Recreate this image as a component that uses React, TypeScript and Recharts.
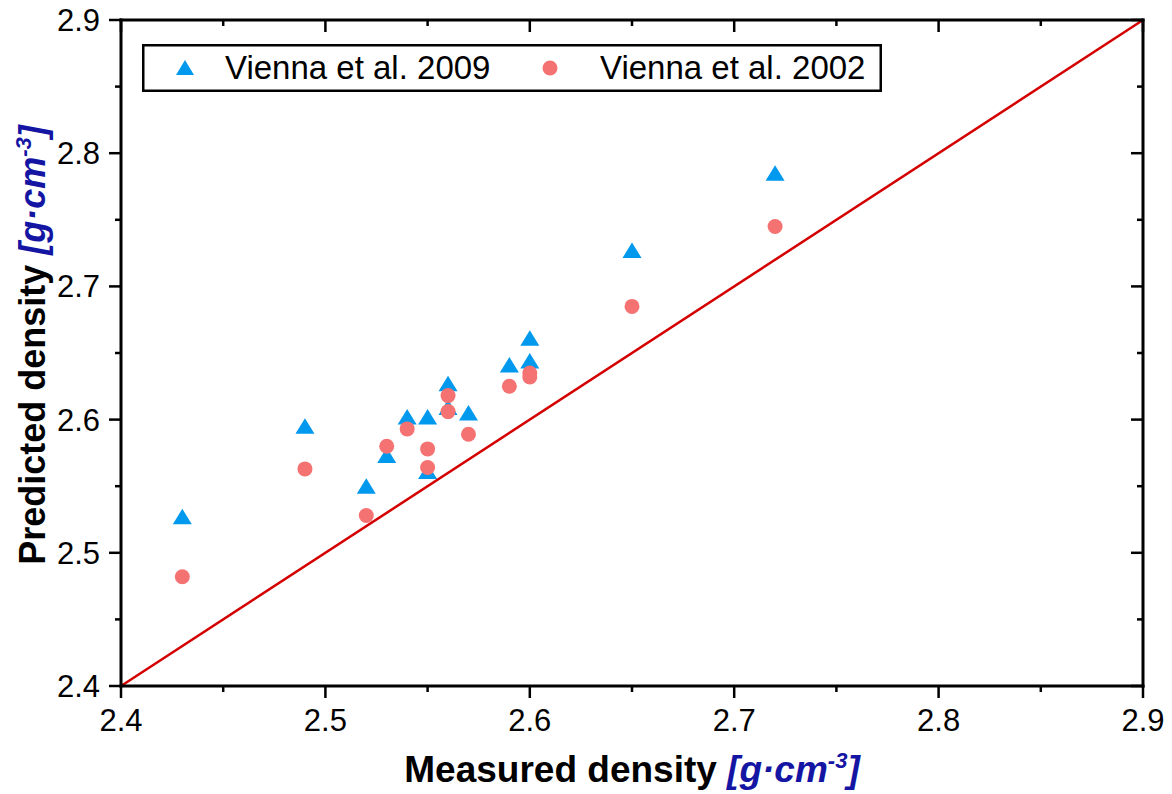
import React from 'react';
import { ScatterChart, Scatter, XAxis, YAxis, ReferenceLine, Legend } from 'recharts';

const measured2009 = [2.43, 2.49, 2.52, 2.53, 2.54, 2.55, 2.55, 2.56, 2.56, 2.57, 2.59, 2.6, 2.6, 2.65, 2.72];
const predicted2009 = [2.527, 2.595, 2.55, 2.573, 2.602, 2.602, 2.561, 2.627, 2.609, 2.605, 2.641, 2.661, 2.644, 2.727, 2.785];
const measured2002 = [2.43, 2.49, 2.52, 2.53, 2.54, 2.55, 2.55, 2.56, 2.56, 2.57, 2.59, 2.6, 2.6, 2.65, 2.72];
const predicted2002 = [2.482, 2.563, 2.528, 2.58, 2.593, 2.578, 2.564, 2.618, 2.606, 2.589, 2.625, 2.635, 2.632, 2.685, 2.745];

const seriesNames = ['Vienna et al. 2009', 'Vienna et al. 2002'];
const majorTicks = [2.4, 2.5, 2.6, 2.7, 2.8, 2.9];
const allTicks = [2.4, 2.45, 2.5, 2.55, 2.6, 2.65, 2.7, 2.75, 2.8, 2.85, 2.9];
const parityLine = [2.4, 2.9];

const FONT = '"Liberation Sans", Arial, sans-serif';
const BLUE = '#0099ee';
const SALMON = '#f57272';
const UNIT = '#1515a3';

const data2009 = measured2009.map((x, i) => ({ x, y: predicted2009[i] }));
const data2002 = measured2002.map((x, i) => ({ x, y: predicted2002[i] }));

const isMajor = (v: number) => majorTicks.some((m) => Math.abs(m - v) < 1e-6);

const BottomTick = (props: any) => {
  const { x, y, payload } = props;
  const major = isMajor(payload.value);
  return (
    <g>
      <line x1={x} x2={x} y1={y} y2={y + (major ? 12 : 6)} stroke="#000" strokeWidth={2.5} />
      {major && (
        <text x={x} y={y + 45} textAnchor="middle" fontSize={31} fontFamily={FONT} fill="#000">
          {payload.value.toFixed(1)}
        </text>
      )}
    </g>
  );
};

const LeftTick = (props: any) => {
  const { x, y, payload } = props;
  const major = isMajor(payload.value);
  return (
    <g>
      <line x1={x} x2={x - (major ? 12 : 6)} y1={y} y2={y} stroke="#000" strokeWidth={2.5} />
      {major && (
        <text x={x - 21} y={y + 11} textAnchor="end" fontSize={31} fontFamily={FONT} fill="#000">
          {payload.value.toFixed(1)}
        </text>
      )}
    </g>
  );
};

const TopTick = (props: any) => {
  const { x, y, payload } = props;
  const major = isMajor(payload.value);
  return <line x1={x} x2={x} y1={y} y2={y + (major ? 12 : 6)} stroke="#000" strokeWidth={2.5} />;
};

const RightTick = (props: any) => {
  const { x, y, payload } = props;
  const major = isMajor(payload.value);
  return <line x1={x} x2={x - (major ? 12 : 6)} y1={y} y2={y} stroke="#000" strokeWidth={2.5} />;
};

const Triangle = (props: any) => {
  const { cx, cy, fill } = props;
  return <polygon points={`${cx},${cy - 8} ${cx + 9.5},${cy + 7.5} ${cx - 9.5},${cy + 7.5}`} fill={fill} />;
};

const Dot = (props: any) => {
  const { cx, cy, fill } = props;
  return <circle cx={cx} cy={cy} r={7.5} fill={fill} />;
};

const XTitle = (props: any) => {
  const { viewBox } = props;
  const cx = viewBox.x + viewBox.width / 2;
  return (
    <text x={cx} y={viewBox.y + 96} textAnchor="middle" fontSize={37} fontWeight="bold" fontFamily={FONT} fill="#000">
      Measured density{' '}
      <tspan fill={UNIT} fontStyle="italic">[g·cm</tspan>
      <tspan fill={UNIT} fontStyle="italic" fontSize={22} dy={-14}>-3</tspan>
      <tspan fill={UNIT} fontStyle="italic" dy={14}>]</tspan>
    </text>
  );
};

const YTitle = (props: any) => {
  const { viewBox } = props;
  const cy = viewBox.y + viewBox.height / 2 - 8;
  const bx = 45;
  return (
    <text x={bx} y={cy} transform={`rotate(-90, ${bx}, ${cy})`} textAnchor="middle" fontSize={36} fontWeight="bold" fontFamily={FONT} fill="#000">
      Predicted density{' '}
      <tspan fill={UNIT} fontStyle="italic">[g·cm</tspan>
      <tspan fill={UNIT} fontStyle="italic" fontSize={22} dy={-14}>-3</tspan>
      <tspan fill={UNIT} fontStyle="italic" dy={14}>]</tspan>
    </text>
  );
};

const markerX = [43, 408];
const textX = [83, 458];

const renderLegend = (props: any) => {
  const { payload = [] } = props;
  const items = [...payload].sort(
    (a: any, b: any) => seriesNames.indexOf(a.value) - seriesNames.indexOf(b.value)
  );
  return (
    <svg width={740} height={48}>
      <rect x={1.25} y={1.25} width={737.5} height={45.5} fill="#fff" stroke="#000" strokeWidth={2.5} />
      {items.map((entry: any, i: number) => (
        <g key={entry.value}>
          {entry.type === 'triangle' ? (
            <polygon
              points={`${markerX[i]},${16} ${markerX[i] + 9},${31} ${markerX[i] - 9},${31}`}
              fill={entry.color}
            />
          ) : (
            <circle cx={markerX[i]} cy={24} r={7.5} fill={entry.color} />
          )}
          <text x={textX[i]} y={35} fontSize={33} fontFamily={FONT} fill="#000">
            {entry.value}
          </text>
        </g>
      ))}
    </svg>
  );
};

const axisLineStyle = { stroke: '#000', strokeWidth: 3, strokeLinecap: 'square' as const };

export default function App() {
  return (
    <div style={{ position: 'absolute', left: 0, top: 0, background: '#fff' }}>
      <ScatterChart width={1172} height={794} margin={{ top: 19, right: 28, bottom: 0, left: 0 }}>
        <XAxis
          xAxisId="b"
          type="number"
          dataKey="x"
          orientation="bottom"
          height={108}
          domain={[2.4, 2.9]}
          ticks={allTicks}
          interval={0}
          allowDataOverflow
          tickSize={0}
          tickMargin={0}
          tickLine={false}
          axisLine={axisLineStyle}
          tick={BottomTick}
          label={{ content: XTitle }}
        />
        <XAxis
          xAxisId="t"
          type="number"
          dataKey="x"
          orientation="top"
          height={1}
          domain={[2.4, 2.9]}
          ticks={allTicks}
          interval={0}
          allowDataOverflow
          tickSize={0}
          tickMargin={0}
          tickLine={false}
          axisLine={axisLineStyle}
          tick={TopTick}
        />
        <YAxis
          yAxisId="l"
          type="number"
          dataKey="y"
          orientation="left"
          width={121}
          domain={[2.4, 2.9]}
          ticks={allTicks}
          interval={0}
          allowDataOverflow
          tickSize={0}
          tickMargin={0}
          tickLine={false}
          axisLine={axisLineStyle}
          tick={LeftTick}
          label={{ content: YTitle }}
        />
        <YAxis
          yAxisId="r"
          type="number"
          dataKey="y"
          orientation="right"
          width={1}
          domain={[2.4, 2.9]}
          ticks={allTicks}
          interval={0}
          allowDataOverflow
          tickSize={0}
          tickMargin={0}
          tickLine={false}
          axisLine={axisLineStyle}
          tick={RightTick}
        />
        <ReferenceLine
          xAxisId="b"
          yAxisId="l"
          segment={[
            { x: parityLine[0], y: parityLine[0] },
            { x: parityLine[1], y: parityLine[1] },
          ]}
          stroke="#d40000"
          strokeWidth={2.5}
          ifOverflow="visible"
        />
        <Scatter
          name={seriesNames[0]}
          data={data2009}
          xAxisId="b"
          yAxisId="l"
          fill={BLUE}
          legendType="triangle"
          shape={Triangle}
          isAnimationActive={false}
        />
        <Scatter
          name={seriesNames[1]}
          data={data2002}
          xAxisId="b"
          yAxisId="l"
          fill={SALMON}
          legendType="circle"
          shape={Dot}
          isAnimationActive={false}
        />
        <Legend
          layout="horizontal"
          verticalAlign="middle"
          align="center"
          content={renderLegend}
          wrapperStyle={{ left: 142, top: 44, width: 740, height: 48 }}
        />
      </ScatterChart>
    </div>
  );
}
